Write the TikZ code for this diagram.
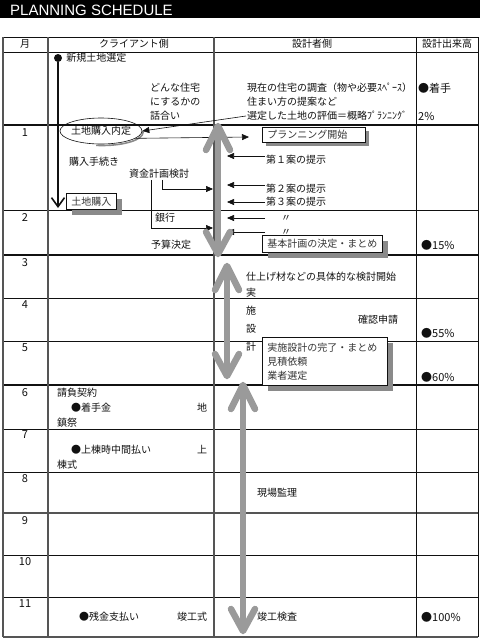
\documentclass[tikz,border=0pt]{standalone}
\usepackage{fontspec}
\newfontfamily\jpfont{Noto Sans CJK JP}
\newfontfamily\titlefont{Liberation Sans}
\usepackage{tikz}
\usetikzlibrary{
  arrows.meta,
  positioning,
  shapes.geometric,
  shadows,
}
\definecolor{ink}{HTML}{111111}
\definecolor{rule}{HTML}{555555}
\definecolor{flow}{HTML}{9A9A9A}
\definecolor{shade}{HTML}{8A8A8A}
\tikzset{
  font=\jpfont\fontsize{10}{12}\selectfont,
  txt/.style={anchor=west, inner sep=1pt, text=ink},
  month/.style={inner sep=1pt, text=ink, font=\jpfont\fontsize{11}{12}\selectfont},
  head/.style={inner sep=1pt, text=ink},
  rate/.style={anchor=west, inner sep=1pt, text=ink, font=\jpfont\fontsize{11}{12}\selectfont},
  tip/.style={draw=ink, line width=0.6pt, -{Triangle[length=7pt,width=6pt]}},
  flowbar/.style={draw=flow, line width=6.5pt, line cap=round, line join=round},
  memo/.style={
    draw=ink,
    line width=0.5pt,
    fill=white,
    anchor=north west,
    align=left,
    inner xsep=5pt,
    inner ysep=1pt,
    text=ink!85,
    drop shadow={shadow xshift=#1, shadow yshift=-#1, fill=shade, opacity=1},
  },
  memo/.default=6pt,
}

\begin{document}
\begin{tikzpicture}[x=1pt,y=-1pt]
  \useasboundingbox (0,0) rectangle (480,638);
  \fill[white] (0,0) rectangle (480,638);

  % title bar
  \fill[black] (0,0) rectangle (480,18);
  \node[anchor=west, inner sep=0pt, text=white, font=\titlefont\fontsize{15}{15}\selectfont] (title) at (10,10.5) {PLANNING SCHEDULE};

  % table rules
  \foreach \y in {37,52,210,298,341,429,472,555,597}
    \draw[ink, line width=0.8pt] (3,\y) -- (478,\y);
  \foreach \y in {125,255,385}
    \draw[ink, line width=2.6pt] (3,\y) -- (478,\y);
  \foreach \y in {513,637}
    \draw[rule, line width=1.6pt] (3,\y) -- (478,\y);
  \foreach \x in {3,48,214}
    \draw[rule, line width=1.6pt] (\x,37) -- (\x,637);
  \foreach \x in {416,478}
    \draw[ink, line width=0.8pt] (\x,37) -- (\x,637);

  % header and months
  \node[head] (hmonth) at (25,44) {月};
  \node[head] (hclient) at (134,44) {クライアント側};
  \node[head] (hdesign) at (312,44) {設計者側};
  \node[head] (hrate) at (447,44) {設計出来高};
  \foreach \m/\y in {1/133, 2/218, 3/263, 4/305, 5/348, 6/393, 7/435, 8/479, 9/521, 10/562, 11/604}
    \node[month] (m\m) at (25,\y) {\m};

  % before month 1
  \node[circle, fill=ink, inner sep=0pt, minimum size=8pt] (start) at (58,58) {};
  \node[txt, right=3pt of start] (site) {新規土地選定};
  \coordinate (buy) at (58,208);
  \draw[ink, line width=1.6pt, -{Straight Barb[length=9pt,width=13pt]}] (start) -- (buy);
  \node[txt] (kind1) at (149,88) {どんな住宅};
  \node[txt] (kind2) at (149,102) {にするかの};
  \node[txt] (kind3) at (149,116) {話合い};
  \node[txt] (survey) at (246,88) {現在の住宅の調査（物や必要ｽﾍﾟｰｽ）};
  \node[txt] (propose) at (246,102) {住まい方の提案など};
  \node[txt] (evaluate) at (246,116) {選定した土地の評価＝概略ﾌﾟﾗﾝﾆﾝｸﾞ};
  \node[rate] (rate0) at (417,88) {●着手};
  \node[rate] (rate0b) at (417,116) {2\%};

  % months 1-2
  \begin{scope}
    \clip (96,131) rectangle (150,150);
    \node[ellipse, draw=shade, line width=1.6pt, minimum width=82pt, minimum height=26pt] (landshade) at (102,132.5) {};
  \end{scope}
  \node[ellipse, draw=ink, line width=0.6pt, minimum width=82pt, minimum height=26pt,
    inner xsep=-1.5pt, inner ysep=0pt, text=ink] (land) at (101,131) {土地購入内定};
  \draw[tip] (evaluate.west) -- (land.east);
  \coordinate (planin) at (249,137);
  \draw[tip] (land.-12) -- (planin);
  \node[memo=3.5pt, text width=93pt, minimum height=15pt] (plan) at (262,127) {プランニング開始};
  \node[txt] (proc) at (68,162) {購入手続き};
  \node[txt] (fund) at (128,174) {資金計画検討};
  \node[memo, minimum height=16pt] (bought) at (66,193) {土地購入};
  \node[txt] (bank) at (154,218) {銀行};
  \node[txt] (budget) at (150,245) {予算決定};
  \coordinate (toplan) at (213,189);
  \coordinate (tobank) at (213,228);
  \draw[tip] ([xshift=3pt]fund.south) |- (toplan);
  \draw[tip] ([xshift=-8pt]fund.south) |- (tobank);

  \coordinate (flow1) at (227,0);
  \node[txt] (plan1) at (265,160) {第１案の提示};
  \node[txt] (plan2) at (265,189) {第２案の提示};
  \node[txt] (plan3) at (265,202) {第３案の提示};
  \draw[tip] ([yshift=4pt]plan1.west) -- ([yshift=4pt]plan1.west -| flow1);
  \draw[tip] ([yshift=4pt]plan2.west) -- ([yshift=4pt]plan2.west -| flow1);
  \draw[tip] (plan3.west) -- (plan3.west -| flow1);
  \node[txt] (ditto1) at (280,218) {〃};
  \node[txt] (ditto2) at (280,232) {〃};
  \draw[tip] ([xshift=-15pt]ditto1.west) -- (ditto1.west -| flow1);
  \draw[tip] ([xshift=-15pt]ditto2.west) -- (ditto2.west -| flow1);
  \node[memo, text width=110pt, minimum height=17pt] (basic) at (262,235) {基本計画の決定・まとめ};
  \node[rate] (rate2) at (420,245) {●15\%};

  % months 3-5
  \node[txt] (finish) at (245,277) {仕上げ材などの具体的な検討開始};
  \node[txt, align=center, font=\jpfont\fontsize{10}{18}\selectfont] (detail) at (245,320) {実\\施\\設\\計};
  \node[txt] (confirm) at (357,320) {確認申請};
  \node[memo, text width=115pt, minimum height=48pt, font=\jpfont\fontsize{10}{14}\selectfont] (done) at (262,337) {実施設計の完了・まとめ\\見積依頼\\業者選定};
  \node[rate] (rate4) at (420,333) {●55\%};
  \node[rate] (rate5) at (420,377) {●60\%};

  % months 6-11
  \node[txt] (contract) at (56,393) {請負契約};
  \node[txt] (deposit) at (70,408) {●着手金};
  \node[txt] (rite1a) at (196,408) {地};
  \node[txt] (rite1b) at (56,423) {鎮祭};
  \node[txt] (midpay) at (70,450) {●上棟時中間払い};
  \node[txt] (rite2a) at (196,450) {上};
  \node[txt] (rite2b) at (56,465) {棟式};
  \node[txt] (site2) at (256,493) {現場監理};
  \node[txt] (lastpay) at (78,617) {●残金支払い};
  \node[txt] (rite3) at (176,617) {竣工式};
  \node[txt] (inspect) at (256,617) {竣工検査};
  \node[rate] (rate11) at (420,617) {●100\%};

  % grey phase arrows
  \foreach \x/\ya/\yb in {218/123/257, 227/263/379, 243/382/634} {
    \draw[flowbar] (\x,\ya+4) -- (\x,\yb-4);
    \draw[flowbar] (\x-12,\ya+27) -- (\x,\ya+3) -- (\x+12,\ya+27);
    \draw[flowbar] (\x-12,\yb-25) -- (\x,\yb-3) -- (\x+12,\yb-25);
  }
\end{tikzpicture}
\end{document}
